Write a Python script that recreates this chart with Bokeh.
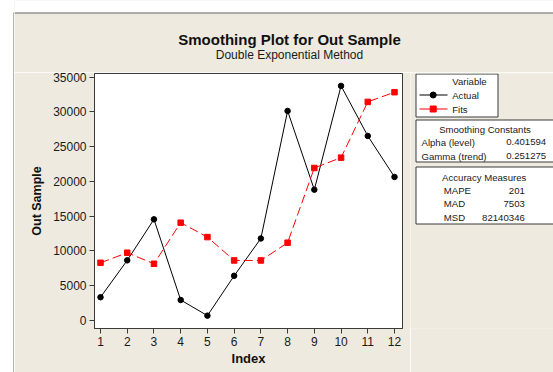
from bokeh.plotting import figure
from bokeh.models import Label, Range1d, FixedTicker
from bokeh.layouts import column, row
from bokeh.embed import file_html
from bokeh.resources import INLINE

# ---------------- data ----------------
index = list(range(1, 13))
actual = [3350, 8650, 14550, 2950, 700, 6430, 11800, 30150, 18820, 33750, 26550, 20650]
fits = [8300, 9750, 8160, 14070, 12000, 8640, 8640, 11190, 21940, 23430, 31450, 32840]
y_ticks = [0, 5000, 10000, 15000, 20000, 25000, 30000, 35000]

title_text = "Smoothing Plot for Out Sample"
subtitle_text = "Double Exponential Method"
legend_title = "Variable"
series_names = ["Actual", "Fits"]
const_title = "Smoothing Constants"
const_names = ["Alpha (level)", "Gamma (trend)"]
const_values = ["0.401594", "0.251275"]
acc_title = "Accuracy Measures"
acc_names = ["MAPE", "MAD", "MSD"]
acc_values = ["201", "7503", "82140346"]

# ---------------- style constants ----------------
BG = "#EEEAE0"
EDGE = "#6a6a6a"
DARK = "#3a3a3a"
TXT = "#1a1a1a"
FONT = "Liberation Sans"


def blank_fig(w, h, x0, x1, y0, y1, bg=BG, top=0, bottom=0):
    f = figure(width=w, height=h, output_backend="svg", toolbar_location=None, tools="",
               title=None, x_axis_type=None, y_axis_type=None,
               x_range=Range1d(x0, x1), y_range=Range1d(y0, y1),
               min_border=0, min_border_left=0, min_border_right=0,
               min_border_top=top, min_border_bottom=bottom)
    f.border_fill_color = bg
    f.background_fill_color = bg
    f.outline_line_color = None
    f.grid.visible = False
    return f


def label(f, text, x, y, size="9.6px", align="left", style="normal", color=TXT):
    f.add_layout(Label(x=x, y=y, text=text, text_align=align, text_baseline="middle",
                       text_font=FONT, text_font_size=size, text_font_style=style,
                       text_color=color))


# ---------------- left strip : page x 0..14, y 0..372 ----------------
strip = blank_fig(14, 372, 0, 14, 372, 0, bg="white")
strip.quad(left=[13], right=[14], top=[12], bottom=[372], fill_color=EDGE, line_color=None)

# ---------------- header (titles) : page x 14..553, y 0..72 ----------------
head = blank_fig(539, 72, 14, 553, 72, 0)
head.quad(left=[14], right=[553], top=[0], bottom=[12], fill_color="white", line_color=None)
head.quad(left=[14], right=[553], top=[12], bottom=[13], fill_color=EDGE, line_color=None)
label(head, title_text, 289, 39.3, size="15px", align="center", style="bold", color="#111111")
label(head, subtitle_text, 289, 54.5, size="12px", align="center")

# ---------------- main plot : page x 14..410, y 72..372 (frame 94..402 x 73..328) ----------------
xs, xe = 0.7755, 12.299
ys, ye = -1151, 35532
p = figure(width=396, height=300, output_backend="svg", toolbar_location=None, tools="",
           title=None, x_range=Range1d(xs, xe), y_range=Range1d(ys, ye),
           min_border_left=80, min_border_right=8, min_border_top=1, min_border_bottom=44)
p.border_fill_color = BG
p.background_fill_color = "white"
p.outline_line_color = DARK
p.xgrid.visible = False
p.ygrid.visible = False

for ax in (p.xaxis[0], p.yaxis[0]):
    ax.axis_line_color = DARK
    ax.major_tick_line_color = DARK
    ax.major_tick_out = 5
    ax.major_tick_in = 0
    ax.minor_tick_line_color = None
    ax.major_label_text_font = FONT
    ax.major_label_text_font_size = "12px"
    ax.major_label_text_color = TXT
    ax.axis_label_text_font = FONT
    ax.axis_label_text_font_style = "bold"
    ax.axis_label_text_color = "#111111"

p.xaxis.ticker = FixedTicker(ticks=index)
p.yaxis.ticker = FixedTicker(ticks=y_ticks)
p.xaxis.major_label_standoff = 3
p.yaxis.major_label_standoff = 3
p.xaxis.axis_label = "Index"
p.xaxis.axis_label_text_font_size = "13px"
p.xaxis.axis_label_standoff = 2
p.yaxis.axis_label = "Out Sample"
p.yaxis.axis_label_text_font_size = "12.5px"
p.yaxis.axis_label_standoff = 6

p.line(index, actual, line_color="black", line_width=1)
p.scatter(index, actual, marker="circle", size=5.5, fill_color="black", line_color="black")
p.line(index, fits, line_color="#FF0000", line_width=1, line_dash="9 4")
p.scatter(index, fits, marker="square", size=5.5, fill_color="#FF0000", line_color="#FF0000")

# ---------------- side panel : page x 410..553, y 72..372 (frame 73..328) ----------------
side = blank_fig(143, 300, 410, 553, 328, 73, top=1, bottom=44)

# legend box
side.quad(left=[415.5], right=[497.5], top=[73.5], bottom=[116.5],
          fill_color="white", line_color=DARK, line_width=1)
label(side, legend_title, 451.7, 81)
label(side, series_names[0], 451.7, 94.5)
label(side, series_names[1], 451.7, 108.5)
side.line([419, 447], [94.5, 94.5], line_color="black", line_width=1)
side.scatter([432.7], [94.5], marker="circle", size=6, fill_color="black", line_color="black")
side.line([419, 447], [108.5, 108.5], line_color="#FF0000", line_width=1)
side.scatter([432.7], [108.5], marker="square", size=6, fill_color="#FF0000", line_color="#FF0000")

# smoothing constants
side.quad(left=[415.5], right=[570], top=[119.5], bottom=[161.5],
          fill_color="white", line_color=DARK, line_width=1)
label(side, const_title, 484.5, 129, align="center")
for i, (n, v) in enumerate(zip(const_names, const_values)):
    yy = [141.7, 155.7][i]
    label(side, n, 421, yy)
    label(side, v, 545.7, yy, align="right")

# accuracy measures
side.quad(left=[415.5], right=[570], top=[166.5], bottom=[223.5],
          fill_color="white", line_color=DARK, line_width=1)
label(side, acc_title, 483.7, 176.7, align="center")
for i, (n, v) in enumerate(zip(acc_names, acc_values)):
    yy = [190, 203.3, 217.3][i]
    label(side, n, 443.3, yy)
    label(side, v, 524.3, yy, align="right")

# ---------------- page assembly ----------------
inner = column(head, row(p, side, spacing=0), spacing=0)
page = row(strip, inner, spacing=0)

open("out.html", "w").write(file_html(page, INLINE))
